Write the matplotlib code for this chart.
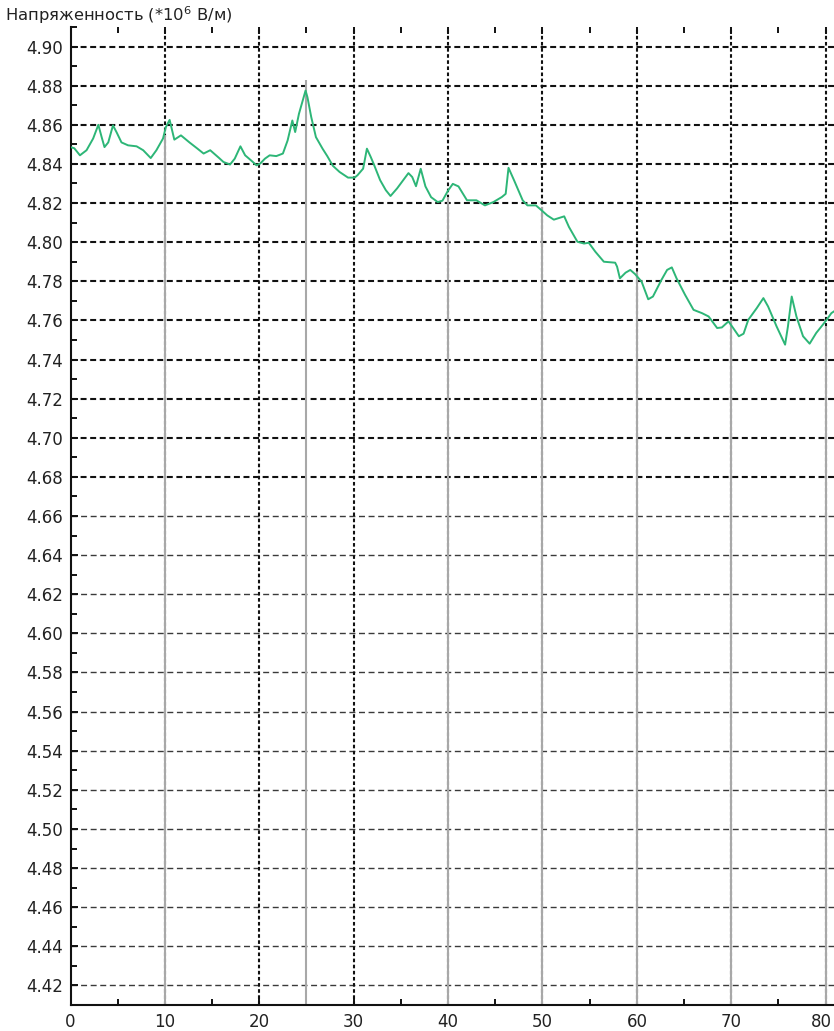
import numpy as np
import matplotlib
matplotlib.use("Agg")
import matplotlib.pyplot as plt
from matplotlib.ticker import MultipleLocator, FormatStrFormatter, FixedLocator
from matplotlib.transforms import ScaledTranslation

plt.rcParams['font.family'] = ['DejaVu Sans']
plt.rcParams['lines.scale_dashes'] = False

# Field strength profile (x in conventional units, E in 10^6 V/m)
pos = [0.0, 0.4, 1.0, 1.7, 2.4, 2.95, 3.3, 3.6, 4.0, 4.5, 4.9, 5.4, 6.1, 7.0,
       7.7, 8.5, 9.1, 9.8, 10.1, 10.5, 11.0, 11.7, 12.6, 13.4, 14.1, 14.8,
       15.7, 16.2, 16.9, 17.4, 18.0, 18.5, 19.2, 19.7, 20.1, 20.6, 21.1, 21.8,
       22.5, 23.0, 23.5, 23.8, 24.2, 24.9, 25.1, 25.5, 26.0, 26.7, 27.2, 27.8,
       28.5, 29.4, 30.1, 30.4, 31.0, 31.4, 31.8, 32.1, 32.8, 33.4, 33.9, 34.6,
       35.3, 35.8, 36.2, 36.6, 37.1, 37.6, 38.2, 38.9, 39.4, 40.0, 40.5, 41.1,
       42.0, 43.0, 43.9, 44.8, 45.7, 46.1, 46.4, 47.0, 47.9, 48.4, 49.3, 49.9,
       50.5, 51.2, 52.3, 52.8, 53.7, 54.4, 54.9, 55.6, 56.5, 57.7, 57.9, 58.2,
       58.8, 59.3, 59.8, 60.5, 61.2, 61.7, 62.6, 63.2, 63.7, 64.2, 65.1, 66.0,
       66.9, 67.6, 68.5, 69.0, 69.7, 70.2, 70.8, 71.3, 71.8, 72.7, 73.4, 73.9,
       74.8, 75.7, 76.0, 76.4, 76.9, 77.6, 78.3, 79.0, 79.7, 80.1, 80.6, 81.0]
field = [4.8486, 4.8480, 4.8444, 4.8470, 4.8530, 4.8600, 4.8537, 4.8486, 4.8510,
         4.8597, 4.8560, 4.8510, 4.8495, 4.8490, 4.8470, 4.8430, 4.8470, 4.8530,
         4.8588, 4.8625, 4.8524, 4.8546, 4.8510, 4.8480, 4.8453, 4.8470, 4.8432,
         4.8410, 4.8397, 4.8427, 4.8490, 4.8444, 4.8415, 4.8393, 4.8402, 4.8427,
         4.8444, 4.8440, 4.8453, 4.8520, 4.8622, 4.8563, 4.8656, 4.8775, 4.8741,
         4.8640, 4.8537, 4.8478, 4.8440, 4.8390, 4.8359, 4.8330, 4.8330, 4.8342,
         4.8376, 4.8478, 4.8436, 4.8402, 4.8317, 4.8266, 4.8236, 4.8275, 4.8320,
         4.8353, 4.8333, 4.8286, 4.8375, 4.8285, 4.8230, 4.8205, 4.8212, 4.8264,
         4.8298, 4.8285, 4.8214, 4.8214, 4.8188, 4.8205, 4.8231, 4.8247, 4.8380,
         4.8315, 4.8214, 4.8188, 4.8188, 4.8163, 4.8137, 4.8115, 4.8132, 4.8078,
         4.8002, 4.7993, 4.7997, 4.7951, 4.7900, 4.7895, 4.7875, 4.7815, 4.7844,
         4.7858, 4.7837, 4.7798, 4.7708, 4.7722, 4.7807, 4.7858, 4.7871, 4.7815,
         4.7731, 4.7654, 4.7637, 4.7620, 4.7561, 4.7564, 4.7595, 4.7561, 4.7519,
         4.7532, 4.7603, 4.7663, 4.7714, 4.7671, 4.7569, 4.7476, 4.7569, 4.7722,
         4.7620, 4.7519, 4.7481, 4.7536, 4.7578, 4.7603, 4.7637, 4.7650]

# Marker drop lines (position and upper end)
drop_x = [10, 25, 40, 50, 60, 70, 80]
drop_top = [4.855, 4.883, 4.823, 4.818, 4.785, 4.760, 4.757]

x_ticks = [0, 10, 20, 30, 40, 50, 60, 70, 80]
y_ticks = [4.42, 4.44, 4.46, 4.48, 4.50, 4.52, 4.54, 4.56, 4.58, 4.60, 4.62,
           4.64, 4.66, 4.68, 4.70, 4.72, 4.74, 4.76, 4.78, 4.80, 4.82, 4.84,
           4.86, 4.88, 4.90]

title = "Напряженность (*10$^6$ В/м)"

W, H = 834, 1031
fig = plt.figure(figsize=(W / 100, H / 100), dpi=100)
fig.patch.set_facecolor("white")
left_px, bottom_px, top_px = 70.5, 26, 27
ax = fig.add_axes([left_px / W, bottom_px / H, (W - left_px) / W,
                   (H - bottom_px - top_px) / H])
ax.set_xlim(0, 80.88)
ax.set_ylim(4.41, 4.91)

# horizontal dashed grid
for yv in y_ticks:
    lw = 1.5 if yv >= 4.675 else 1.0
    col = "#111111" if yv >= 4.675 else "#3a3a3a"
    ax.axhline(yv, color=col, lw=lw, ls=(0, (4.3, 2.6)), zorder=1)

# vertical dotted grid
for xv in x_ticks[1:]:
    ax.axvline(xv, color="#111111", lw=1.5, ls=(0, (2.6, 1.8)), zorder=1)

# drop lines
ax.vlines(drop_x, 4.41, drop_top, color="#a8a8a8", lw=1.5, zorder=2)

# curve
ax.plot(pos, field, color="#2db677", lw=1.4, zorder=3)

ax.set_xticks(x_ticks)
ax.xaxis.set_minor_locator(MultipleLocator(5))
ax.set_yticks(y_ticks)
ax.yaxis.set_minor_locator(FixedLocator([v + 0.01 for v in [4.40] + y_ticks]))
ax.yaxis.set_major_formatter(FormatStrFormatter("%.2f"))

for side in ("top", "right"):
    ax.spines[side].set_visible(False)
for side in ("left", "bottom"):
    ax.spines[side].set_linewidth(1.5)
    ax.spines[side].set_color("#111111")

ax.tick_params(which="both", direction="in", top=True, right=False,
               color="#111111", width=1.4)
ax.tick_params(which="major", length=5)
ax.tick_params(which="minor", length=4)
ax.tick_params(axis="y", which="major", labelsize=12, pad=5.4,
               labelcolor="#222222")
ax.tick_params(axis="x", which="major", labelsize=12, pad=5.5,
               labelcolor="#222222")

# keep the last x label inside the figure edge
last = ax.xaxis.get_major_ticks()[-1].label1
last.set_transform(last.get_transform()
                   + ScaledTranslation(-3 / 72, 0, fig.dpi_scale_trans))

fig.text(5 / W, 1 - 4 / H, title, ha="left", va="top", fontsize=11.8,
         color="#222222")

fig.savefig("out.png", dpi=100)
